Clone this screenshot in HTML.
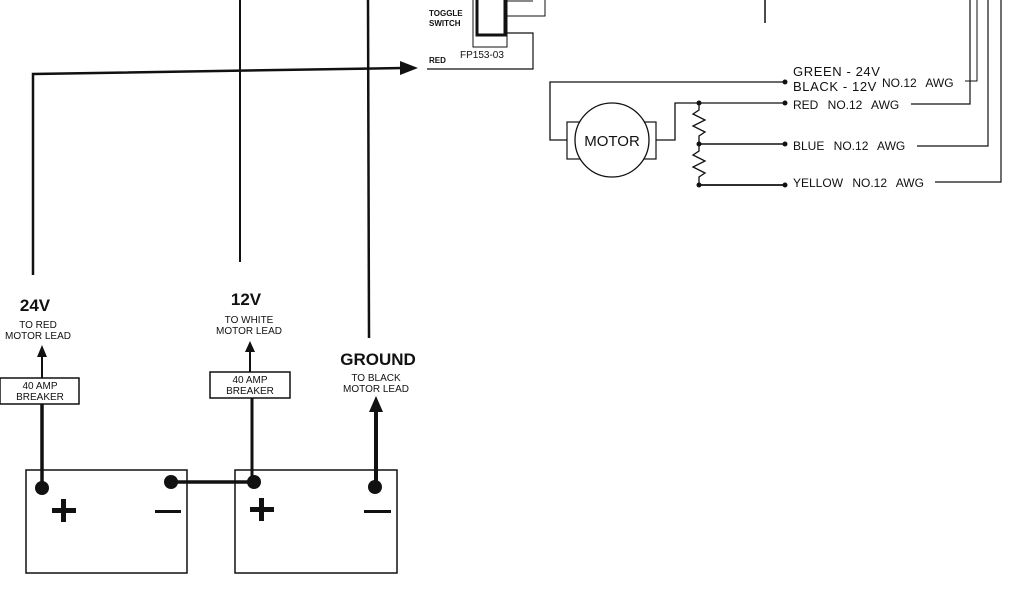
<!DOCTYPE html>
<html><head><meta charset="utf-8"><style>
html,body{margin:0;padding:0;background:#fff;}
svg{display:block;}
text{font-family:"Liberation Sans",Arial,sans-serif;fill:#111;}
</style></head><body>
<svg width="1024" height="600" viewBox="0 0 1024 600" xmlns="http://www.w3.org/2000/svg">
<g stroke="#111" fill="none">
  <!-- main upper wiring -->
  <line x1="240" y1="0" x2="240" y2="262" stroke-width="2"/>
  <line x1="368" y1="0" x2="369" y2="338" stroke-width="2.5"/>
  <polyline points="33,275 33,74 404,68" stroke-width="2.5"/>
  <!-- toggle switch -->
  <rect x="473" y="-2" width="34" height="49" stroke-width="1"/>
  <rect x="477" y="-2" width="28" height="37" stroke-width="3"/>
  <polyline points="507,1 533,1" stroke-width="1"/>
  <polyline points="507,16 545,16 545,0" stroke-width="1"/>
  <polyline points="507,33 533,33 533,69 427,69" stroke-width="1.2"/>
  <line x1="765" y1="0" x2="765" y2="23" stroke-width="1.5"/>
  <!-- motor wiring -->
  <polyline points="567,140 550,140 550,82 785,82" stroke-width="1.3"/>
  <rect x="567" y="122" width="89" height="37" stroke-width="1.2" fill="#fff"/>
  <circle cx="612" cy="140" r="37" stroke-width="1.3" fill="#fff"/>
  <polyline points="656,140 675,140 675,103 785,103" stroke-width="1.3"/>
  <polyline points="699,103 699,110 693,114 705,120 693,126 705,132 699,136 699,144" stroke-width="1.3"/>
  <polyline points="699,144 699,151 693,155 705,161 693,167 705,173 699,177 699,185" stroke-width="1.3"/>
  <line x1="699" y1="144" x2="785" y2="144" stroke-width="1.5"/>
  <line x1="699" y1="185" x2="785" y2="185" stroke-width="1.8"/>
  <!-- right verticals -->
  <polyline points="965,81 977,81 977,0" stroke-width="1"/>
  <polyline points="911,104 970,104 970,0" stroke-width="1.2"/>
  <polyline points="917,146 988,146 988,0" stroke-width="1.2"/>
  <polyline points="935,182 1001,182 1001,0" stroke-width="1.2"/>
  <!-- batteries -->
  <rect x="26" y="470" width="161" height="103" stroke-width="1.5"/>
  <rect x="235" y="470" width="162" height="103" stroke-width="1.5"/>
  <line x1="171" y1="482" x2="254" y2="482" stroke-width="3.5"/>
  <line x1="42" y1="404" x2="42" y2="488" stroke-width="3.5"/>
  <line x1="42" y1="378" x2="42" y2="356" stroke-width="2"/>
  <rect x="0" y="378" width="79" height="26" stroke-width="1.5" fill="#fff"/>
  <line x1="252" y1="398" x2="252" y2="482" stroke-width="3"/>
  <line x1="250" y1="372" x2="250" y2="350" stroke-width="2"/>
  <rect x="210" y="372" width="80" height="26" stroke-width="1.5" fill="#fff"/>
  <line x1="376" y1="487" x2="376" y2="408" stroke-width="4"/>
</g>
<g fill="#111">
  <polygon points="418,68 400,61 400,75"/>
  <polygon points="42,345 37,357 47,357"/>
  <polygon points="250,341 245,352 255,352"/>
  <polygon points="376,396 369,412 383,412"/>
  <circle cx="42" cy="488" r="7"/>
  <circle cx="171" cy="482" r="7"/>
  <circle cx="254" cy="482" r="7"/>
  <circle cx="375" cy="487" r="7"/>
  <rect x="52" y="508" width="24" height="5"/><rect x="61" y="499" width="5" height="23"/>
  <rect x="155" y="510" width="26" height="3"/>
  <rect x="250" y="507" width="24" height="5"/><rect x="259" y="498" width="5" height="23"/>
  <rect x="364" y="510" width="27" height="3"/>
  <circle cx="785" cy="82" r="2.5"/><circle cx="785" cy="103" r="2.5"/>
  <circle cx="785" cy="144" r="2.5"/><circle cx="785" cy="185" r="2.5"/>
  <circle cx="699" cy="103" r="2.5"/><circle cx="699" cy="144" r="2.5"/><circle cx="699" cy="185" r="2.5"/>
</g>
<text x="429" y="16" font-size="8" font-weight="bold">TOGGLE</text>
<text x="429" y="26" font-size="8" font-weight="bold">SWITCH</text>
<text x="429" y="63" font-size="8" font-weight="bold">RED</text>
<text x="460" y="58" font-size="10">FP153-03</text>
<text x="612" y="146" font-size="15" text-anchor="middle">MOTOR</text>
<text x="793" y="76" font-size="13" letter-spacing="0.6">GREEN - 24V</text>
<text x="793" y="91" font-size="13" letter-spacing="0.6">BLACK - 12V</text>
<text x="882" y="87" font-size="12" word-spacing="6">NO.12 AWG</text>
<text x="793" y="109" font-size="12" word-spacing="6">RED NO.12 AWG</text>
<text x="793" y="150" font-size="12" word-spacing="6">BLUE NO.12 AWG</text>
<text x="793" y="187" font-size="12" word-spacing="6">YELLOW NO.12 AWG</text>
<g text-anchor="middle">
  <text x="35" y="311" font-size="17" font-weight="bold">24V</text>
  <text x="38" y="328" font-size="10">TO RED</text>
  <text x="38" y="339" font-size="10">MOTOR LEAD</text>
  <text x="40" y="389" font-size="10">40 AMP</text>
  <text x="40" y="400" font-size="10">BREAKER</text>
  <text x="246" y="305" font-size="17" font-weight="bold">12V</text>
  <text x="249" y="323" font-size="10">TO WHITE</text>
  <text x="249" y="334" font-size="10">MOTOR LEAD</text>
  <text x="250" y="383" font-size="10">40 AMP</text>
  <text x="250" y="394" font-size="10">BREAKER</text>
  <text x="378" y="365" font-size="17" font-weight="bold">GROUND</text>
  <text x="376" y="381" font-size="10">TO BLACK</text>
  <text x="376" y="392" font-size="10">MOTOR LEAD</text>
</g>
</svg>
</body></html>
